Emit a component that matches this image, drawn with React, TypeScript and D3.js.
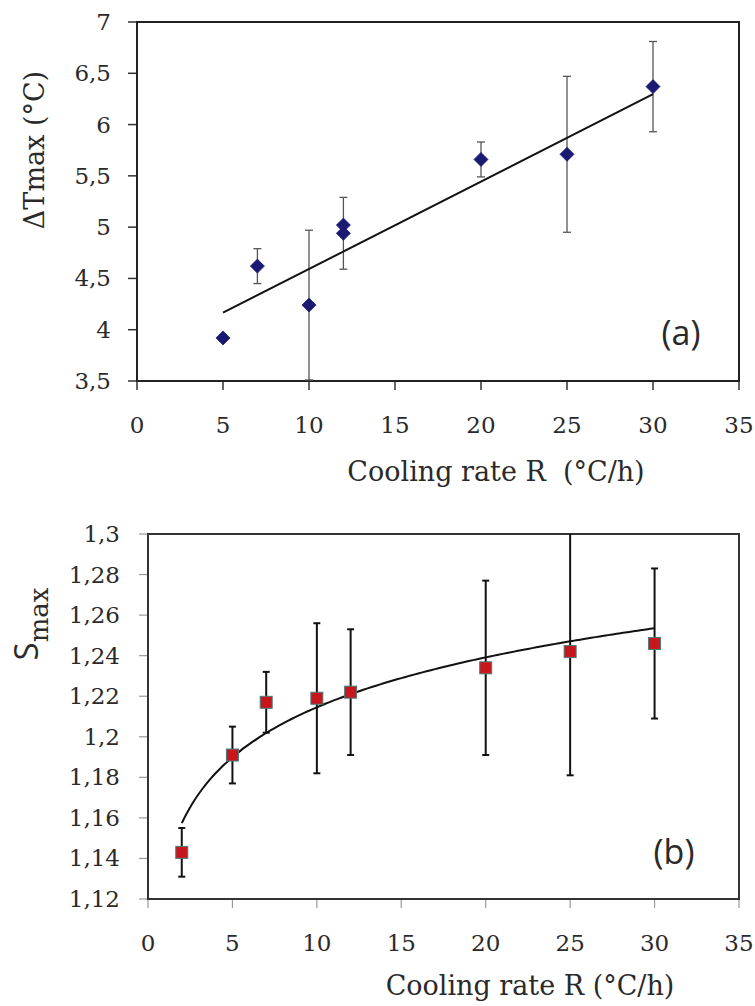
import React, { useRef, useEffect } from "react";
import * as d3 from "d3";

// panel (a): temperature difference vs cooling rate
const rateA = [5, 7, 10, 12, 12, 20, 25, 30];
const dTmax = [3.92, 4.62, 4.24, 5.02, 4.94, 5.66, 5.71, 6.37];
const dTerr = [0.03, 0.17, 0.73, 0, 0.35, 0.17, 0.76, 0.44];
// linear trend
const fitASlope = 0.0852;
const fitAIntercept = 3.74;
const fitARange = [5, 30];

// panel (b): supersaturation vs cooling rate
const rateB = [2, 5, 7, 10, 12, 20, 25, 30];
const smax = [1.143, 1.191, 1.217, 1.219, 1.222, 1.234, 1.242, 1.246];
const smaxErr = [0.012, 0.014, 0.015, 0.037, 0.031, 0.043, 0.061, 0.037];
// logarithmic trend: a + b ln(R)
const fitBA = 1.1328;
const fitBB = 0.0355;
const fitBRange = [2, 30];

const xTicks = [0, 5, 10, 15, 20, 25, 30, 35];
const yTicksA = [3.5, 4, 4.5, 5, 5.5, 6, 6.5, 7];
const yTicksB = [1.12, 1.14, 1.16, 1.18, 1.2, 1.22, 1.24, 1.26, 1.28, 1.3];

const serif = "'DejaVu Serif', 'Liberation Serif', serif";
const sans = "'Open Sans', 'Liberation Sans', sans-serif";
const ink = "#2a2a2a";

const comma = (v) => String(+v.toFixed(2)).replace(".", ",");

const App = () => {
  const ref = useRef(null);

  useEffect(() => {
    const svg = d3.select(ref.current);
    svg.selectAll("*").remove();

    // ---------- panel (a) ----------
    const a = { left: 137, right: 739, top: 22, bottom: 381 };
    const xA = d3.scaleLinear().domain([0, 35]).range([a.left, a.right]);
    const yA = d3.scaleLinear().domain([3.5, 7]).range([a.bottom, a.top]);
    const gA = svg.append("g");

    gA.selectAll(".xt")
      .data(xTicks)
      .enter()
      .append("line")
      .attr("x1", (d) => xA(d))
      .attr("x2", (d) => xA(d))
      .attr("y1", a.bottom)
      .attr("y2", a.bottom + 9)
      .attr("stroke", "#333")
      .attr("stroke-width", 1.5);

    gA.selectAll(".yt")
      .data(yTicksA)
      .enter()
      .append("line")
      .attr("x1", a.left - 9)
      .attr("x2", a.left)
      .attr("y1", (d) => yA(d))
      .attr("y2", (d) => yA(d))
      .attr("stroke", "#333")
      .attr("stroke-width", 1.5);

    gA.selectAll(".xl")
      .data(xTicks)
      .enter()
      .append("text")
      .attr("x", (d) => xA(d))
      .attr("y", 433)
      .attr("text-anchor", "middle")
      .attr("font-family", serif)
      .attr("font-size", 23)
      .attr("fill", ink)
      .text((d) => d);

    gA.selectAll(".yl")
      .data(yTicksA)
      .enter()
      .append("text")
      .attr("x", 111)
      .attr("y", (d) => yA(d) + 8)
      .attr("text-anchor", "end")
      .attr("font-family", serif)
      .attr("font-size", 23)
      .attr("fill", ink)
      .text((d) => comma(d));

    gA.append("rect")
      .attr("x", a.left)
      .attr("y", a.top)
      .attr("width", a.right - a.left)
      .attr("height", a.bottom - a.top)
      .attr("fill", "none")
      .attr("stroke", "#222")
      .attr("stroke-width", 2);

    // error bars
    const errA = rateA.map((x, i) => ({ x, y: dTmax[i], e: dTerr[i] })).filter((d) => d.e > 0);
    errA.forEach((d) => {
      const cx = xA(d.x);
      const y1 = yA(d.y + d.e);
      const y2 = yA(d.y - d.e);
      gA.append("line").attr("x1", cx).attr("x2", cx).attr("y1", y1).attr("y2", y2)
        .attr("stroke", "#555").attr("stroke-width", 1.3);
      [y1, y2].forEach((yy) => {
        gA.append("line").attr("x1", cx - 4).attr("x2", cx + 4).attr("y1", yy).attr("y2", yy)
          .attr("stroke", "#555").attr("stroke-width", 1.3);
      });
    });

    // trend line
    const lineA = d3.line()
      .x((d) => xA(d))
      .y((d) => yA(fitAIntercept + fitASlope * d));
    gA.append("path")
      .datum(fitARange)
      .attr("d", lineA)
      .attr("fill", "none")
      .attr("stroke", "#111")
      .attr("stroke-width", 2);

    // diamonds
    gA.selectAll(".pt")
      .data(rateA.map((x, i) => ({ x, y: dTmax[i] })))
      .enter()
      .append("path")
      .attr("d", "M0,-7L7,0L0,7L-7,0Z")
      .attr("transform", (d) => `translate(${xA(d.x)},${yA(d.y)})`)
      .attr("fill", "#1a1a72")
      .attr("stroke", "#1a1a72")
      .attr("stroke-width", 0.8)
      .attr("stroke-linejoin", "round");

    gA.append("text")
      .attr("x", 681)
      .attr("y", 345)
      .attr("text-anchor", "middle")
      .attr("font-family", sans)
      .attr("font-size", 34)
      .attr("fill", ink)
      .text("(a)");

    gA.append("text")
      .attr("x", 496)
      .attr("y", 481)
      .attr("text-anchor", "middle")
      .attr("font-family", serif)
      .attr("font-size", 27)
      .attr("fill", ink)
      .attr("xml:space", "preserve")
      .text("Cooling rate R  (°C/h)");

    gA.append("text")
      .attr("transform", "translate(44,150) rotate(-90)")
      .attr("text-anchor", "middle")
      .attr("font-family", serif)
      .attr("font-size", 27)
      .attr("fill", ink)
      .text("ΔTmax (°C)");

    // ---------- panel (b) ----------
    const b = { left: 148, right: 739, top: 534, bottom: 899 };
    const xB = d3.scaleLinear().domain([0, 35]).range([b.left, b.right]);
    const yB = d3.scaleLinear().domain([1.12, 1.3]).range([b.bottom, b.top]);
    const gB = svg.append("g");

    svg.append("defs")
      .append("clipPath")
      .attr("id", "clipB")
      .append("rect")
      .attr("x", b.left)
      .attr("y", b.top)
      .attr("width", b.right - b.left)
      .attr("height", b.bottom - b.top);

    gB.selectAll(".xt")
      .data(xTicks)
      .enter()
      .append("line")
      .attr("x1", (d) => xB(d))
      .attr("x2", (d) => xB(d))
      .attr("y1", b.bottom)
      .attr("y2", b.bottom + 9)
      .attr("stroke", "#999")
      .attr("stroke-width", 1.2);

    gB.selectAll(".yt")
      .data(yTicksB)
      .enter()
      .append("line")
      .attr("x1", b.left - 9)
      .attr("x2", b.left)
      .attr("y1", (d) => yB(d))
      .attr("y2", (d) => yB(d))
      .attr("stroke", "#999")
      .attr("stroke-width", 1.2);

    gB.selectAll(".xl")
      .data(xTicks)
      .enter()
      .append("text")
      .attr("x", (d) => xB(d))
      .attr("y", 951)
      .attr("text-anchor", "middle")
      .attr("font-family", serif)
      .attr("font-size", 23)
      .attr("fill", ink)
      .text((d) => d);

    gB.selectAll(".yl")
      .data(yTicksB)
      .enter()
      .append("text")
      .attr("x", 120)
      .attr("y", (d) => yB(d) + 8)
      .attr("text-anchor", "end")
      .attr("font-family", serif)
      .attr("font-size", 23)
      .attr("fill", ink)
      .text((d) => comma(d));

    gB.append("rect")
      .attr("x", b.left)
      .attr("y", b.top)
      .attr("width", b.right - b.left)
      .attr("height", b.bottom - b.top)
      .attr("fill", "none")
      .attr("stroke", "#333")
      .attr("stroke-width", 2);

    const inner = gB.append("g").attr("clip-path", "url(#clipB)");

    rateB.forEach((x, i) => {
      const cx = xB(x);
      const top = smax[i] + smaxErr[i];
      const y1 = yB(top);
      const y2 = yB(smax[i] - smaxErr[i]);
      inner.append("line").attr("x1", cx).attr("x2", cx).attr("y1", y1).attr("y2", y2)
        .attr("stroke", "#111").attr("stroke-width", 2);
      const caps = top <= 1.3 ? [y1, y2] : [y2];
      caps.forEach((yy) => {
        inner.append("line").attr("x1", cx - 3.5).attr("x2", cx + 3.5).attr("y1", yy).attr("y2", yy)
          .attr("stroke", "#111").attr("stroke-width", 2);
      });
    });

    const lineB = d3.line()
      .x((d) => xB(d))
      .y((d) => yB(fitBA + fitBB * Math.log(d)))
      .curve(d3.curveBasis);
    inner.append("path")
      .datum(d3.range(fitBRange[0], fitBRange[1] + 0.001, 0.25))
      .attr("d", lineB)
      .attr("fill", "none")
      .attr("stroke", "#111")
      .attr("stroke-width", 2);

    inner.selectAll(".sq")
      .data(rateB.map((x, i) => ({ x, y: smax[i] })))
      .enter()
      .append("rect")
      .attr("x", (d) => xB(d.x) - 6)
      .attr("y", (d) => yB(d.y) - 6)
      .attr("width", 12)
      .attr("height", 12)
      .attr("fill", "#c8161d")
      .attr("stroke", "#4a7c7c")
      .attr("stroke-width", 1);

    gB.append("text")
      .attr("x", 674)
      .attr("y", 864)
      .attr("text-anchor", "middle")
      .attr("font-family", sans)
      .attr("font-size", 34)
      .attr("fill", ink)
      .text("(b)");

    gB.append("text")
      .attr("x", 530)
      .attr("y", 995)
      .attr("text-anchor", "middle")
      .attr("font-family", serif)
      .attr("font-size", 27)
      .attr("fill", ink)
      .text("Cooling rate R (°C/h)");

    const yTitle = gB.append("text")
      .attr("transform", "translate(38,624) rotate(-90)")
      .attr("text-anchor", "middle")
      .attr("fill", ink);
    yTitle.append("tspan")
      .attr("font-family", sans)
      .attr("font-size", 33)
      .text("S");
    yTitle.append("tspan")
      .attr("font-family", serif)
      .attr("font-size", 26)
      .attr("dy", 10)
      .text("max");
  }, []);

  return (
    <svg
      ref={ref}
      width={755}
      height={1006}
      style={{ position: "absolute", left: 0, top: 0, background: "#fff" }}
    />
  );
};

export default App;
